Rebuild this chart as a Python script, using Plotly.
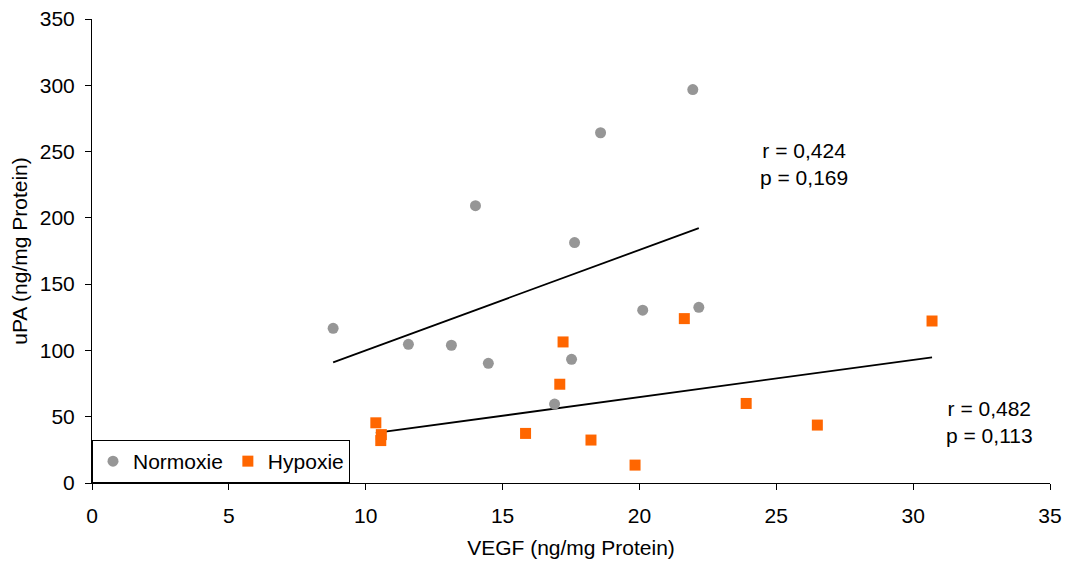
import numpy as np
import plotly.graph_objects as go

# Normoxie data (VEGF, uPA)
normoxie_vegf = [8.81, 11.56, 13.13, 14.01, 14.48, 16.90, 17.52, 17.63, 18.58, 20.12, 21.95, 22.17]
normoxie_upa = [116.7, 104.6, 103.9, 209.2, 90.3, 59.5, 93.3, 181.4, 264.2, 130.4, 296.8, 132.5]

# Hypoxie data (VEGF, uPA)
hypoxie_vegf = [10.37, 10.57, 10.55, 15.84, 17.09, 17.21, 18.23, 19.84, 21.64, 23.90, 26.50, 30.69]
hypoxie_upa = [45.4, 36.5, 32.0, 37.4, 74.5, 106.4, 32.4, 13.5, 124.0, 60.0, 43.7, 122.2]

stats_normoxie = ["r = 0,424", "p = 0,169"]
stats_hypoxie = ["r = 0,482", "p = 0,113"]

FONT = "Liberation Sans, Arial, sans-serif"
FS = 21
GRAY = "#969696"
ORANGE = "#FF6600"


def trend(xs, ys):
    xs = np.asarray(xs)
    ys = np.asarray(ys)
    m, b = np.polyfit(xs, ys, 1)
    x2 = np.array([xs.min(), xs.max()])
    return x2, m * x2 + b


fig = go.Figure()

tx, ty = trend(normoxie_vegf, normoxie_upa)
fig.add_trace(go.Scatter(x=tx, y=ty, mode="lines", line=dict(color="black", width=1.8),
                         showlegend=False, hoverinfo="skip"))
tx, ty = trend(hypoxie_vegf, hypoxie_upa)
fig.add_trace(go.Scatter(x=tx, y=ty, mode="lines", line=dict(color="black", width=1.8),
                         showlegend=False, hoverinfo="skip"))

fig.add_trace(go.Scatter(x=normoxie_vegf, y=normoxie_upa, mode="markers", name="Normoxie",
                         marker=dict(symbol="circle", size=11, color=GRAY)))
fig.add_trace(go.Scatter(x=hypoxie_vegf, y=hypoxie_upa, mode="markers", name="Hypoxie",
                         marker=dict(symbol="square", size=11, color=ORANGE)))

fig.add_annotation(x=26.0, y=241, xref="x", yref="y", text="<br>".join(stats_normoxie),
                   showarrow=False, align="center", font=dict(family=FONT, size=FS, color="black"))
fig.add_annotation(x=32.8, y=46.3, xref="x", yref="y", text="<br>".join(stats_hypoxie),
                   showarrow=False, align="center", font=dict(family=FONT, size=FS, color="black"))

fig.update_layout(
    width=1066, height=568,
    margin=dict(l=92, r=16, t=19, b=85),
    paper_bgcolor="white", plot_bgcolor="white",
    font=dict(family=FONT, size=FS, color="black"),
    xaxis=dict(range=[0, 35], dtick=5, tick0=0, showgrid=False, zeroline=False,
               showline=True, linecolor="black", linewidth=1, ticks="outside", ticklen=6,
               tickcolor="black", tickfont=dict(size=FS), ticklabelstandoff=8, automargin=False,
               title=dict(text="VEGF (ng/mg Protein)", font=dict(size=FS), standoff=14)),
    yaxis=dict(range=[0, 350], dtick=50, tick0=0, showgrid=False, zeroline=False,
               showline=True, linecolor="black", linewidth=1, ticks="outside", ticklen=6,
               tickcolor="black", tickfont=dict(size=FS), ticklabelstandoff=6, automargin=False,
               title=dict(text="uPA (ng/mg Protein)", font=dict(size=FS), standoff=6)),
    legend=dict(orientation="h", x=0, y=0, xanchor="left", yanchor="bottom",
                bgcolor="white", bordercolor="black", borderwidth=1,
                font=dict(size=FS), itemwidth=30, tracegroupgap=0),
)

fig.write_html("out.html")
